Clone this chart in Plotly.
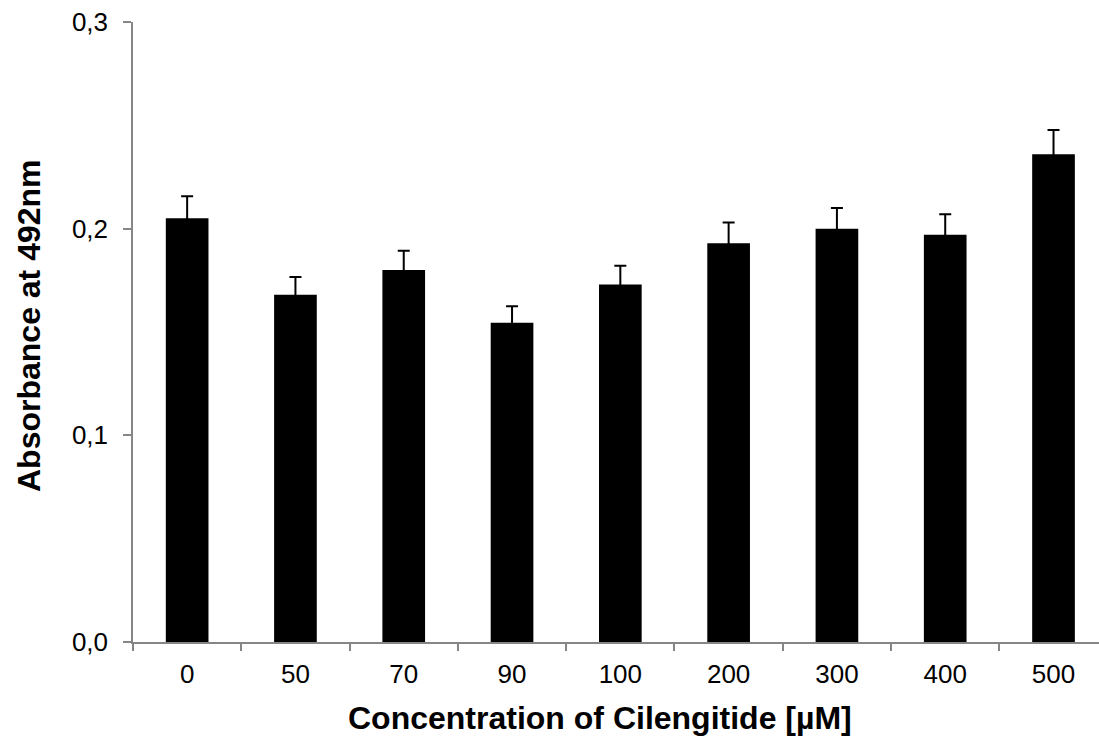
import plotly.graph_objects as go

categories = ["0", "50", "70", "90", "100", "200", "300", "400", "500"]
absorbance = [0.205, 0.168, 0.180, 0.1545, 0.173, 0.193, 0.200, 0.197, 0.236]
errors = [0.0107, 0.0086, 0.0093, 0.0079, 0.009, 0.010, 0.010, 0.010, 0.0118]
y_ticks = [0.0, 0.1, 0.2, 0.3]

AXIS = "#868686"
FONT = "Liberation Sans, Arial, sans-serif"

fig = go.Figure()
fig.add_trace(go.Bar(
    x=categories, y=absorbance, width=0.394,
    marker=dict(color="black", line=dict(width=0)),
    error_y=dict(type="data", array=errors, symmetric=True,
                 color="black", thickness=2, width=6),
))

fig.update_layout(
    width=1099, height=738,
    margin=dict(l=133, r=0, t=22, b=96, pad=0),
    paper_bgcolor="white", plot_bgcolor="white",
    separators=", ",
    showlegend=False,
    font=dict(family=FONT, color="black"),
    xaxis=dict(
        type="category", range=[-0.5, 8.42],
        showline=True, linecolor=AXIS, linewidth=1.5,
        ticks="outside", tickson="boundaries", ticklen=7, tickcolor=AXIS, tickwidth=1.5,
        showgrid=False, zeroline=False,
        tickfont=dict(size=26, family=FONT, color="black"),
        ticklabelstandoff=8,
    ),
    yaxis=dict(
        range=[0, 0.3], tickvals=y_ticks, tickformat=".1f",
        showline=True, linecolor=AXIS, linewidth=1.5,
        ticks="outside", ticklen=8, tickcolor=AXIS, tickwidth=1.5,
        showgrid=False, zeroline=False,
        tickfont=dict(size=26, family=FONT, color="black"),
        ticklabelstandoff=10,
    ),
    annotations=[
        dict(text="<b>Concentration of Cilengitide [µM]</b>", xref="paper", yref="paper",
             x=(600 - 133) / 966, y=(642 - 718) / 620, xanchor="center", yanchor="middle",
             showarrow=False, font=dict(size=32, family=FONT, color="black")),
        dict(text="<b>Absorbance at 492nm</b>", xref="paper", yref="paper",
             x=(29 - 133) / 966, y=(642 - 326) / 620, xanchor="center", yanchor="middle",
             textangle=-90, showarrow=False, font=dict(size=32, family=FONT, color="black")),
    ],
)

fig.write_html("out.html", config={"displayModeBar": False},
               post_script="document.body.style.margin='0';document.body.style.overflow='hidden';")
